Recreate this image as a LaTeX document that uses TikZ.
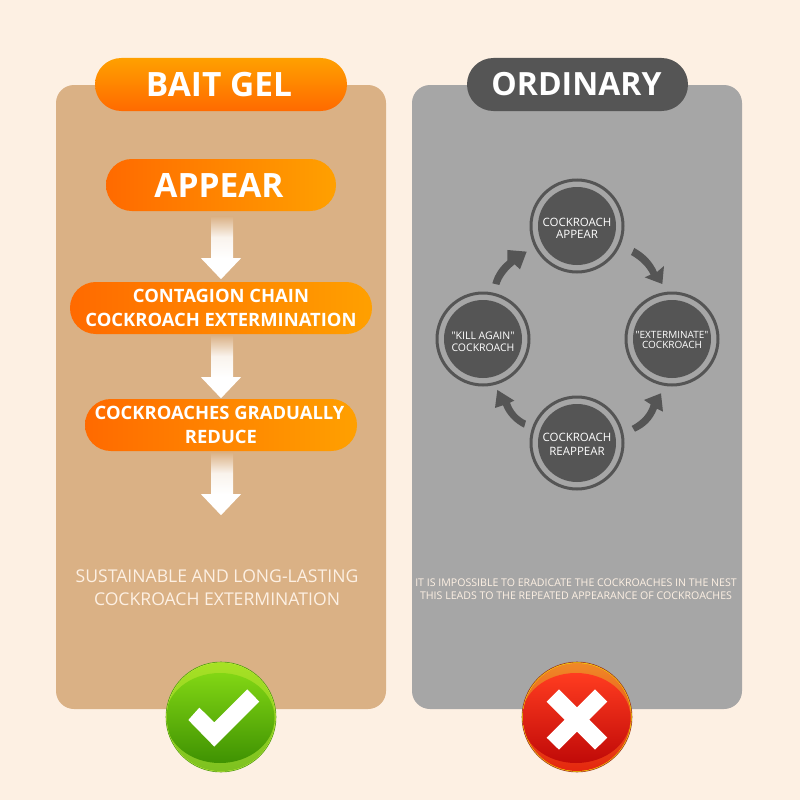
\documentclass[tikz,border=0pt]{standalone}
\usepackage{fontspec}
\setmainfont{Open Sans}[Ligatures=TeXOff]
\usetikzlibrary{calc}
\definecolor{bgc}{HTML}{FDF0E3}
\definecolor{tanc}{HTML}{DAB185}
\definecolor{grayc}{HTML}{A6A6A6}
\definecolor{darkc}{HTML}{555555}
\definecolor{ora}{HTML}{FF6A00}
\definecolor{orb}{HTML}{FFA000}
\definecolor{gtop}{HTML}{A8E224}
\definecolor{gbot}{HTML}{7CC020}
\definecolor{gma}{HTML}{82D614}
\definecolor{gmb}{HTML}{3F9202}
\definecolor{gedge}{HTML}{4E9A10}
\definecolor{grim}{HTML}{C8F040}
\definecolor{rtop}{HTML}{F08C28}
\definecolor{rbot}{HTML}{E4220E}
\definecolor{rma}{HTML}{FF3C20}
\definecolor{rmb}{HTML}{C00A08}
\definecolor{redge}{HTML}{A03020}
\definecolor{rrim}{HTML}{F8E000}
\tikzset{
  panel/.style={rounded corners=18pt},
  pillh/.style={inner sep=0pt,align=center,text=white,font=\bfseries\fontsize{18.4}{23.5}\selectfont,left color=ora,right color=orb,rounded corners=25.9pt},
  title/.style={inner sep=0pt,text=white,font=\bfseries\fontsize{32}{36}\selectfont,rounded corners=26.4pt,minimum height=53pt},
  circ/.style={circle,fill=darkc,minimum size=78pt,inner sep=0pt},
  circtext/.style={text=white,align=center,inner sep=0pt},
  ringc/.style={draw=darkc,line width=3pt},
  caparrow/.style={fill=darkc},
}
\newcommand{\whitearrow}[3]{%
  \shade[top color=tanc,bottom color=white,middle color=white!85!tanc] ($(#1.south)+(-10,#2)$) rectangle ($(#1.south)+(12,#3)$);
  \fill[white] ($(#1.south)+(-20,#3)$) -- ($(#1.south)+(20,#3)$) -- ($(#1.south)+(0,#3+21)$) -- cycle;}
\begin{document}
\begin{tikzpicture}[x=1pt,y=-1pt]
\useasboundingbox (0,0) rectangle (800,800);
\fill[bgc] (0,0) rectangle (800,800);
\fill[tanc,panel] (56,85) rectangle (386,709);
\fill[grayc,panel] (412,85) rectangle (742,709);

\node[title,font=\bfseries\fontsize{33.5}{36}\selectfont,top color=orb,bottom color=ora,minimum width=252pt] (bait) at (221,84.5) {\kern-4pt BAIT GEL};
\node[title,fill=darkc,minimum width=221pt] (ord) at (577.5,84.5) {\kern-2pt ORDINARY};

\node[pillh,font=\bfseries\fontsize{33.5}{36}\selectfont,minimum width=230pt,minimum height=52pt] (appear) at (221,185) {\kern-4pt APPEAR};
\node[pillh,minimum width=302pt,minimum height=52pt] (chain) at (221,308) {CONTAGION CHAIN\\COCKROACH EXTERMINATION};
\node[pillh,minimum width=272pt,minimum height=52pt] (reduce) at (221,425) {\kern-3pt COCKROACHES GRADUALLY\\REDUCE};

\whitearrow{appear}{5}{47}
\whitearrow{chain}{1}{43}
\whitearrow{reduce}{1}{43}

\node[text=bgc,align=center,font=\fontsize{17.6}{23}\selectfont] (sust) at (217,588) {SUSTAINABLE AND LONG-LASTING\\COCKROACH EXTERMINATION};
\node[text=bgc,align=center,font=\fontsize{10.6}{13.5}\selectfont] (imp) at (576,589) {IT IS IMPOSSIBLE TO ERADICATE THE COCKROACHES IN THE NEST\\THIS LEADS TO THE REPEATED APPEARANCE OF COCKROACHES};

% cycle
\node[circ,label={[circtext,font=\fontsize{11.5}{12}\selectfont,yshift=-2pt]center:{COCKROACH\\APPEAR}}] (c1) at (577,226) {};
\node[circ,label={[circtext,font=\fontsize{10}{10}\selectfont,yshift=-1pt]center:{"EXTERMINATE"\\COCKROACH}}] (c2) at (672,339) {};
\node[circ,label={[circtext,font=\fontsize{11.5}{14}\selectfont,yshift=-1pt]center:{COCKROACH\\REAPPEAR}}] (c3) at (577,443) {};
\node[circ,label={[circtext,font=\fontsize{10.5}{12.5}\selectfont,yshift=-2.5pt]center:{"KILL AGAIN"\\COCKROACH}}] (c4) at (483,339) {};
\foreach \n in {c1,c2,c3,c4} \draw[ringc] (\n) circle (46pt);

\begin{scope}[shift={(420,170)},x=0.3333pt,y=-0.3333pt]
\fill[caparrow] (643,234) .. controls (672,250) and (696,272) .. (711,306) -- (732,288) -- (727,342) -- (674,322) -- (692,314) .. controls (680,290) and (660,270) .. (633,255) -- cycle;
\fill[caparrow] (635,768) .. controls (665,752) and (685,730) .. (692,703) -- (672,690) -- (723,670) -- (729,725) -- (711,716) .. controls (698,750) and (675,772) .. (645,785) -- cycle;
\fill[caparrow] (318,752) .. controls (295,742) and (278,722) .. (270,698) -- (283,692) -- (232,660) -- (225,714) -- (249,706) .. controls (260,735) and (285,760) .. (312,773) -- cycle;
\fill[caparrow] (217,340) .. controls (225,312) and (240,290) .. (262,272) -- (262,240) -- (320,245) -- (300,298) -- (284,283) .. controls (262,300) and (245,322) .. (238,345) -- cycle;
\end{scope}

% badges
\node[circle,minimum size=110pt,inner sep=0pt,draw=gedge,line width=0.6pt,fill=grim] (ok) at (221,717) {};
\begin{scope}
\clip (ok) circle (54.2pt);
\shade[top color=gtop,bottom color=gbot] (160,660) rectangle (280,775);
\shade[top color=gma,bottom color=gmb] (220,718) ellipse (54.5pt and 45pt);
\end{scope}
\begin{scope}[shift={(150,650)},x=0.3333pt,y=-0.3333pt]
\fill[white] (115,210) -- (148,173) -- (193,217) -- (292,118) -- (328,155) -- (193,290) -- cycle;
\end{scope}

\node[circle,minimum size=110pt,inner sep=0pt,draw=redge,line width=0.6pt,fill=rrim] (no) at (577,717) {};
\begin{scope}
\clip (no) circle (54pt);
\shade[top color=rtop,bottom color=rbot] (520,660) rectangle (640,775);
\shade[top color=rma,bottom color=rmb] (576,718) ellipse (54.5pt and 45pt);
\end{scope}
\begin{scope}[shift={(150,650)},x=0.3333pt,y=-0.3333pt]
\fill[white] (1190,155) -- (1227,118) -- (1281,172) -- (1335,118) -- (1372,155) -- (1318,209) -- (1372,263) -- (1335,299) -- (1281,245) -- (1227,299) -- (1190,263) -- (1244,209) -- cycle;
\end{scope}
\end{tikzpicture}
\end{document}
